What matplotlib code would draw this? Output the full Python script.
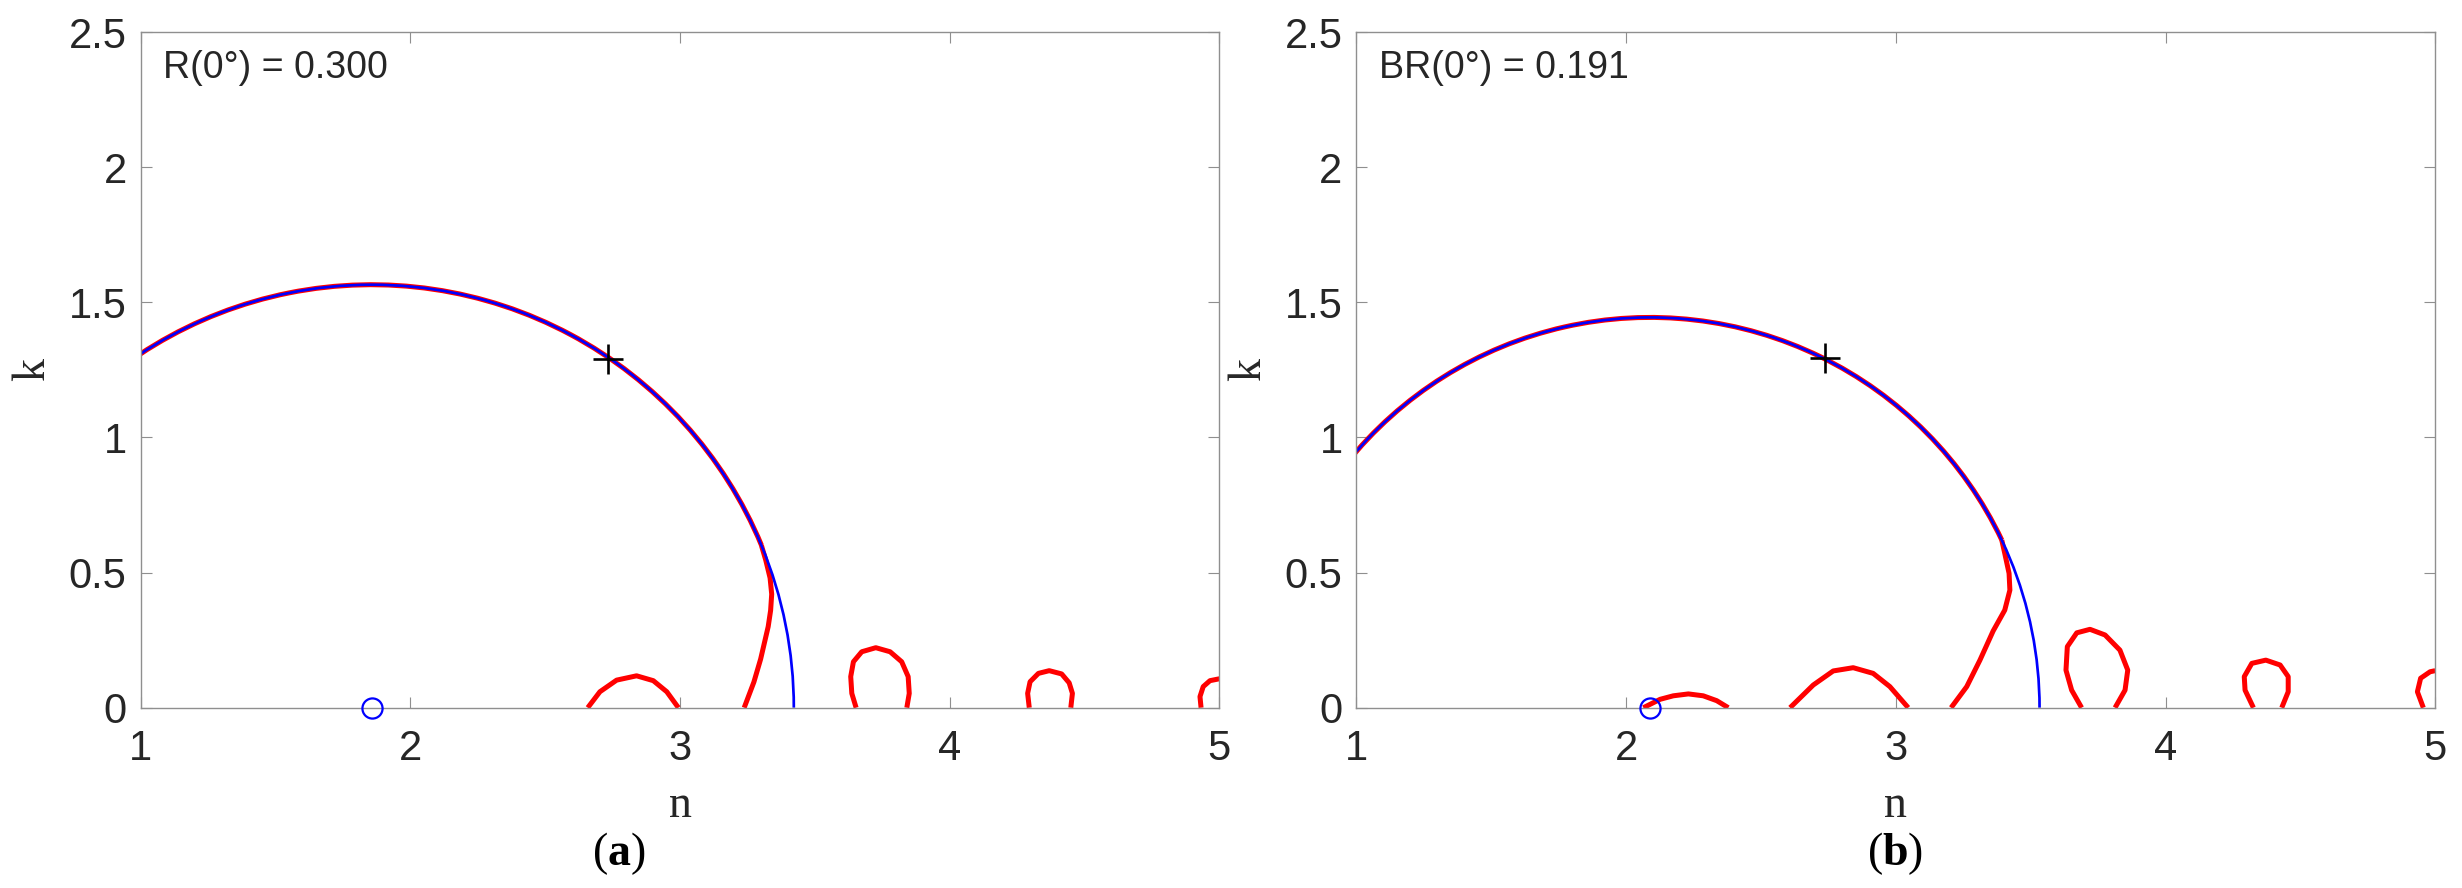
import numpy as np
import matplotlib
matplotlib.use('Agg')
import matplotlib.pyplot as plt
from matplotlib.patches import Arc
from matplotlib.ticker import FormatStrFormatter

plt.rcParams['font.family'] = ['Liberation Sans', 'DejaVu Sans']
plt.rcParams['mathtext.fontset'] = 'custom'
plt.rcParams['mathtext.rm'] = 'Liberation Serif'
plt.rcParams['mathtext.bf'] = 'Liberation Serif:bold'

# data
panel_tags = ['a', 'b']
panel_notes = ['R(0°) = 0.300', 'BR(0°) = 0.191']

# blue iso-reflectance circle: centre on the n axis and radius
circle_center = [1.857, 2.089]
circle_radius = [1.565, 1.444]

# markers
plus_n = [2.734, 2.737]
plus_k = [1.290, 1.292]
dot_n = [1.857, 2.089]
dot_k = [0.0, 0.0]

# red contours, panel (a); first branch leaves the circle
red_a_main_n = [3.302, 3.318, 3.334, 3.340, 3.336, 3.327, 3.299, 3.274, 3.238]
red_a_main_k = [0.600, 0.546, 0.480, 0.420, 0.360, 0.300, 0.180, 0.095, 0.000]
red_a_arch_n = [2.658, 2.703, 2.765, 2.839, 2.901, 2.951, 2.994]
red_a_arch_k = [0.000, 0.059, 0.102, 0.118, 0.100, 0.059, 0.000]
red_a_loop1_n = [3.653, 3.637, 3.633, 3.643, 3.674, 3.726, 3.779, 3.822, 3.846, 3.850, 3.841]
red_a_loop1_k = [0.000, 0.053, 0.115, 0.170, 0.207, 0.222, 0.207, 0.170, 0.115, 0.053, 0.000]
red_a_loop2_n = [4.295, 4.289, 4.298, 4.329, 4.369, 4.415, 4.443, 4.455, 4.449]
red_a_loop2_k = [0.000, 0.053, 0.096, 0.127, 0.137, 0.125, 0.092, 0.053, 0.000]
red_a_edge_n = [4.932, 4.928, 4.940, 4.965, 5.000]
red_a_edge_k = [0.000, 0.041, 0.078, 0.100, 0.107]

# red contours, panel (b)
red_b_main_n = [3.393, 3.404, 3.420, 3.423, 3.404, 3.361, 3.312, 3.263, 3.205]
red_b_main_k = [0.620, 0.571, 0.497, 0.435, 0.361, 0.284, 0.176, 0.078, 0.000]
red_b_arch1_n = [2.064, 2.126, 2.175, 2.231, 2.286, 2.336, 2.379]
red_b_arch1_k = [0.000, 0.031, 0.044, 0.051, 0.044, 0.026, 0.000]
red_b_arch2_n = [2.608, 2.694, 2.768, 2.842, 2.916, 2.978, 3.046]
red_b_arch2_k = [0.000, 0.084, 0.136, 0.148, 0.127, 0.078, 0.000]
red_b_loop1_n = [3.689, 3.652, 3.631, 3.636, 3.671, 3.720, 3.776, 3.831, 3.860, 3.850, 3.813]
red_b_loop1_k = [0.000, 0.065, 0.139, 0.226, 0.277, 0.290, 0.269, 0.213, 0.139, 0.065, 0.000]
red_b_loop2_n = [4.326, 4.295, 4.292, 4.320, 4.372, 4.425, 4.455, 4.455, 4.431]
red_b_loop2_k = [0.000, 0.065, 0.115, 0.164, 0.176, 0.158, 0.115, 0.059, 0.000]
red_b_edge_n = [4.956, 4.934, 4.946, 4.981, 5.000]
red_b_edge_k = [0.000, 0.059, 0.109, 0.133, 0.137]

red_main = [(red_a_main_n, red_a_main_k), (red_b_main_n, red_b_main_k)]
red_other = [
    [(red_a_arch_n, red_a_arch_k), (red_a_loop1_n, red_a_loop1_k),
     (red_a_loop2_n, red_a_loop2_k), (red_a_edge_n, red_a_edge_k)],
    [(red_b_arch1_n, red_b_arch1_k), (red_b_arch2_n, red_b_arch2_k),
     (red_b_loop1_n, red_b_loop1_k), (red_b_loop2_n, red_b_loop2_k),
     (red_b_edge_n, red_b_edge_k)],
]

x_ticks = [1, 2, 3, 4, 5]
y_ticks = [0, 0.5, 1, 1.5, 2, 2.5]

W, H = 2462, 888
fig = plt.figure(figsize=(W / 100, H / 100), dpi=100)

ax_left = [140.6, 1356.4]
ax_w, ax_top, ax_bot = 1078.8, 32.0, 707.7
tag_x = [619, 1895]

red_lw = 3.6
blue_lw = 1.95
gray = '#8f8f8f'

for i in range(2):
    ax = fig.add_axes([ax_left[i] / W, (H - ax_bot) / H, ax_w / W, (ax_bot - ax_top) / H])
    cx, r = circle_center[i], circle_radius[i]

    # red part that lies on the circle
    mn, mk = red_main[i]
    theta_join = np.degrees(np.arctan2(mk[0], mn[0] - cx))
    ax.add_patch(Arc((cx, 0), 2 * r, 2 * r, theta1=theta_join, theta2=180,
                     color='red', lw=red_lw, zorder=2))
    ax.plot(mn, mk, color='red', lw=red_lw, solid_joinstyle='round',
            solid_capstyle='butt', zorder=2)
    for n_vals, k_vals in red_other[i]:
        ax.plot(n_vals, k_vals, color='red', lw=red_lw, solid_joinstyle='round',
                solid_capstyle='butt', zorder=2)

    # blue circle
    ax.add_patch(Arc((cx, 0), 2 * r, 2 * r, theta1=0, theta2=180,
                     color='blue', lw=blue_lw, zorder=3))

    ax.plot(plus_n[i], plus_k[i], marker='+', color='black', ms=21, mew=1.9,
            ls='none', zorder=7)
    ax.plot(dot_n[i], dot_k[i], marker='o', mfc='none', mec='blue', ms=14.5,
            mew=1.6, ls='none', zorder=7, clip_on=False)

    ax.set_xlim(1, 5)
    ax.set_ylim(0, 2.5)
    ax.set_xticks(x_ticks)
    ax.set_yticks(y_ticks)
    ax.yaxis.set_major_formatter(FormatStrFormatter('%g'))
    ax.tick_params(direction='in', length=8, width=0.8, color=gray,
                   top=True, right=True, labelsize=30, labelcolor='#262626')
    ax.tick_params(axis='x', pad=15)
    ax.tick_params(axis='y', pad=10)
    for sp in ax.spines.values():
        sp.set_color(gray)
        sp.set_linewidth(1.0)
        sp.set_zorder(5)

    ax.set_xlabel('n', family='Liberation Serif', fontsize=33, va='baseline', color='#262626')
    ax.xaxis.set_label_coords(0.5, -0.162)
    ax.set_ylabel('k', family='Liberation Serif', fontsize=33, va='center', color='#262626')
    ax.yaxis.set_label_coords(-0.0997, 0.5)

    ax.text(0.021, 0.932, panel_notes[i], transform=ax.transAxes, fontsize=27,
            color='#262626', ha='left', va='baseline')

    fig.text(tag_x[i] / W, 1 - 854 / H, r'($\mathbf{' + panel_tags[i] + '}$)',
             family='Liberation Serif', fontsize=33, ha='center', va='center')

fig.savefig('out.png', dpi=100)
